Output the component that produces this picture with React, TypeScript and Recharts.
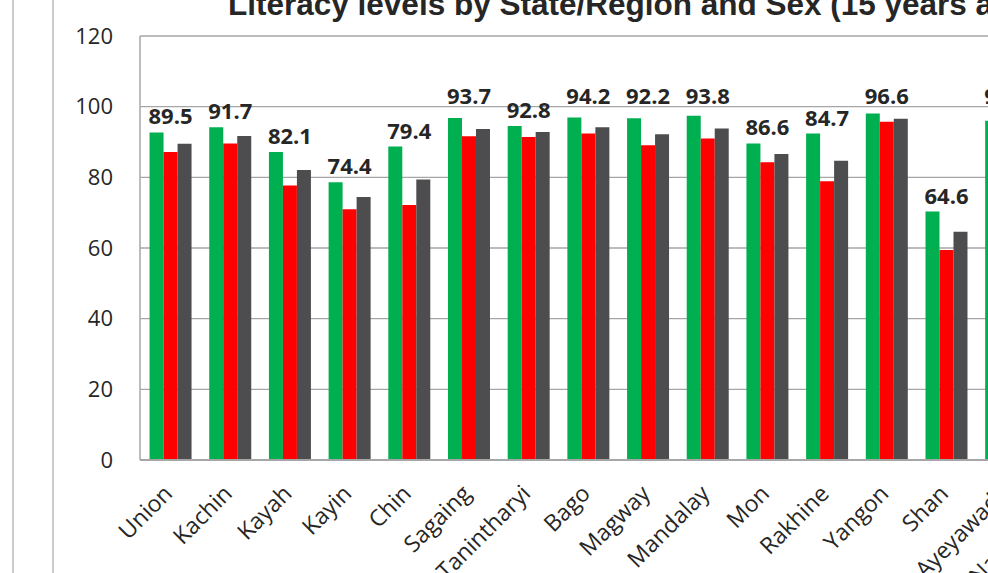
import React from "react";
import { Bar, BarChart, CartesianGrid, LabelList, XAxis, YAxis } from "recharts";

const categories = [
  "Union",
  "Kachin",
  "Kayah",
  "Kayin",
  "Chin",
  "Sagaing",
  "Tanintharyi",
  "Bago",
  "Magway",
  "Mandalay",
  "Mon",
  "Rakhine",
  "Yangon",
  "Shan",
  "Ayeyawady",
  "Nay Pyi Taw",
];
const male = [92.7, 94.2, 87.2, 78.6, 88.7, 96.8, 94.5, 96.9, 96.7, 97.4, 89.6, 92.4, 98.1, 70.3, 96.0, 96.1];
const female = [87.2, 89.6, 77.7, 71.0, 72.2, 91.6, 91.4, 92.4, 89.1, 91.0, 84.3, 78.9, 95.7, 59.4, 91.2, 90.5];
const total = [89.5, 91.7, 82.1, 74.4, 79.4, 93.7, 92.8, 94.2, 92.2, 93.8, 86.6, 84.7, 96.6, 64.6, 93.5, 93.2];
const yTicks = [0, 20, 40, 60, 80, 100, 120];

const chartData = categories.map((name, i) => ({
  name,
  male: male[i],
  female: female[i],
  total: total[i],
}));

const FONT = "'Open Sans', 'DejaVu Sans', sans-serif";
const TEXT = "#262626";
const GRID = "#A6A6A6";

function CategoryTick({ x, y, payload }: any) {
  const px = x + 4;
  const py = y + 35;
  return (
    <text
      x={px}
      y={py}
      textAnchor="end"
      transform={`rotate(-45 ${px} ${py})`}
      fontSize={23}
      fontFamily={FONT}
      fill={TEXT}
    >
      {payload.value}
    </text>
  );
}

// total is written above the tallest (green) bar, centred on the category;
// labels that would sit right on the 100 gridline are lifted just above it
function TotalLabel({ x, y, width, height, value, index }: any) {
  let baseline = y - 8;
  const m = male[index];
  if (m && height > 0) {
    const grid100 = y + height - (100 * height) / m;
    if (baseline > grid100 - 3 && baseline - grid100 < 8) baseline = grid100 - 3;
  }
  return (
    <text
      x={x + width * 1.5}
      y={baseline}
      textAnchor="middle"
      fontSize={22}
      fontWeight="bold"
      fontFamily={FONT}
      fill={TEXT}
    >
      {Number(value).toFixed(1)}
    </text>
  );
}

export default function App() {
  return (
    <div
      style={{
        position: "fixed",
        left: 0,
        top: 0,
        width: 988,
        height: 573,
        overflow: "hidden",
        background: "#fff",
      }}
    >
      <div style={{ position: "absolute", left: 0, top: 0 }}>
        <BarChart
          width={1120}
          height={573}
          data={chartData}
          margin={{ top: 36, right: 25, left: 0, bottom: 13 }}
          barCategoryGap="16%"
          barGap={0}
        >
          <CartesianGrid vertical={false} stroke={GRID} strokeWidth={1.3} />
          <XAxis
            dataKey="name"
            interval={0}
            height={100}
            tickLine={false}
            tickSize={0}
            tickMargin={0}
            axisLine={{ stroke: GRID, strokeWidth: 2 }}
            tick={<CategoryTick />}
          />
          <YAxis
            width={140}
            domain={[0, 120]}
            ticks={yTicks}
            tickLine={false}
            tickSize={0}
            tickMargin={27}
            axisLine={{ stroke: GRID, strokeWidth: 1.5 }}
            tick={{ fontSize: 22, fontFamily: FONT, fill: TEXT }}
          />
          <Bar dataKey="male" fill="#00B050" isAnimationActive={false}>
            <LabelList dataKey="total" content={<TotalLabel />} />
          </Bar>
          <Bar dataKey="female" fill="#FF0000" isAnimationActive={false} />
          <Bar dataKey="total" fill="#4D4D4F" isAnimationActive={false} />
        </BarChart>
      </div>
      <svg
        width={988}
        height={573}
        style={{ position: "absolute", left: 0, top: 0, pointerEvents: "none" }}
      >
        <line x1={13} y1={0} x2={13} y2={573} stroke="#BFBFBF" strokeWidth={1.6} />
        <line x1={53} y1={0} x2={53} y2={573} stroke="#BFBFBF" strokeWidth={1.6} />
        <text
          x={228}
          y={15}
          fontSize={31.5}
          fontWeight="bold"
          fontFamily="'Liberation Sans', Arial, sans-serif"
          fill={TEXT}
        >
          Literacy levels by State/Region and Sex (15 years and over)
        </text>
      </svg>
    </div>
  );
}
